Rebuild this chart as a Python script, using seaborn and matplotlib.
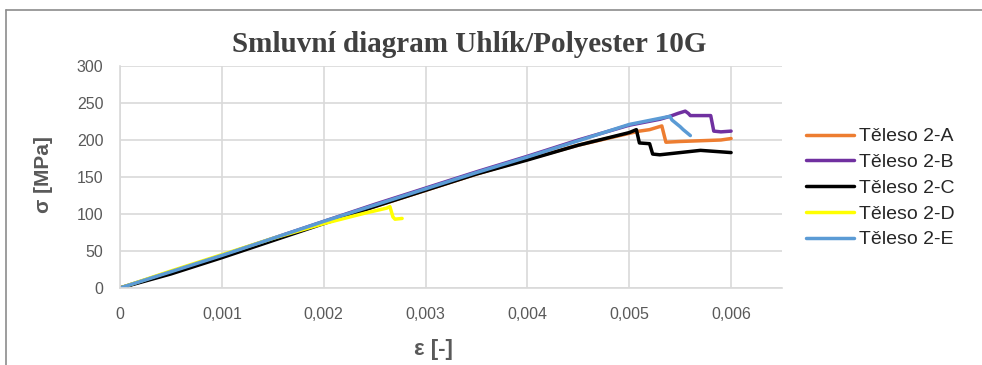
import numpy as np
import pandas as pd
import matplotlib
matplotlib.use("Agg")
import matplotlib.pyplot as plt
import seaborn as sns
from matplotlib.lines import Line2D
from matplotlib.ticker import FixedLocator, FixedFormatter

# ---------------- data ----------------
series_names = ["Těleso 2-A", "Těleso 2-B", "Těleso 2-C", "Těleso 2-D", "Těleso 2-E"]
series_colors = ["#ED7D31", "#7030A0", "#000000", "#FFFF00", "#5B9BD5"]

eps_A = [0, 0.0005, 0.001, 0.0015, 0.002, 0.0025, 0.003, 0.0035, 0.004, 0.0045, 0.005, 0.0051, 0.0052, 0.00532, 0.00536, 0.0055, 0.0057, 0.0059, 0.006]
sig_A = [0, 21, 43, 65, 88, 110, 132, 154, 174, 193, 209, 212, 214, 219, 197, 198, 199, 200, 202]

eps_B = [0, 0.0005, 0.001, 0.0015, 0.002, 0.0025, 0.003, 0.0035, 0.004, 0.0045, 0.005, 0.0053, 0.0054, 0.00548, 0.00555, 0.00558, 0.0056, 0.0058, 0.00583, 0.0059, 0.006]
sig_B = [0, 22, 44, 67, 90, 113, 135, 157, 178, 200, 220, 228, 232, 236, 239, 236, 233, 233, 212, 211, 212]

eps_C = [0, 0.0005, 0.001, 0.0015, 0.002, 0.0025, 0.003, 0.0035, 0.004, 0.0045, 0.005, 0.00507, 0.0051, 0.0052, 0.00523, 0.0053, 0.0055, 0.0057, 0.0058, 0.006]
sig_C = [0, 19, 41, 64, 87, 110, 132, 154, 173, 193, 210, 214, 196, 195, 181, 180, 183, 186, 185, 183]

eps_D = [0, 0.0005, 0.001, 0.0015, 0.002, 0.0024, 0.00262, 0.00265, 0.00268, 0.0027, 0.00277]
sig_D = [0, 23, 45, 67, 87, 101, 108, 110, 96, 93, 94]

eps_E = [0, 0.0005, 0.001, 0.0015, 0.002, 0.0025, 0.003, 0.0035, 0.004, 0.0045, 0.005, 0.0054, 0.00542, 0.0055, 0.00553, 0.0056]
sig_E = [0, 22, 44, 67, 90, 112, 134, 156, 177, 199, 221, 232, 227, 218, 214, 206]

x_ticks = [0, 0.001, 0.002, 0.003, 0.004, 0.005, 0.006]
x_tick_labels = ["0", "0,001", "0,002", "0,003", "0,004", "0,005", "0,006"]
y_ticks = [0, 50, 100, 150, 200, 250, 300]
y_tick_labels = ["0", "50", "100", "150", "200", "250", "300"]

title = "Smluvní diagram Uhlík/Polyester 10G"
x_label = "ε [-]"
y_label = "σ [MPa]"

# ---------------- build frame ----------------
frames = []
for name, e, s in zip(series_names,
                      [eps_A, eps_B, eps_C, eps_D, eps_E],
                      [sig_A, sig_B, sig_C, sig_D, sig_E]):
    frames.append(pd.DataFrame({"eps": e, "sigma": s, "series": name}))
df = pd.concat(frames, ignore_index=True)

sns.set_theme(style="white")
plt.rcParams["font.family"] = ["Liberation Sans", "DejaVu Sans"]

fig = plt.figure(figsize=(9.82, 3.65), dpi=100)
ax = fig.add_axes([120 / 982, 1 - 288 / 365, (782 - 120) / 982, (288 - 66) / 365])

sns.lineplot(data=df, x="eps", y="sigma", hue="series", hue_order=series_names,
             palette=dict(zip(series_names, series_colors)), sort=False,
             estimator=None, linewidth=2.5, ax=ax, legend=False)

ax.set_xlim(0, 0.0065)
ax.set_ylim(0, 300)
ax.xaxis.set_major_locator(FixedLocator(x_ticks))
ax.xaxis.set_major_formatter(FixedFormatter(x_tick_labels))
ax.yaxis.set_major_locator(FixedLocator(y_ticks))
ax.yaxis.set_major_formatter(FixedFormatter(y_tick_labels))
ax.grid(True, color="#D9D9D9", linewidth=1.2)
ax.set_axisbelow(True)
for side in ["top", "right"]:
    ax.spines[side].set_visible(False)
for side in ["left", "bottom"]:
    ax.spines[side].set_color("#D9D9D9")
    ax.spines[side].set_linewidth(1.2)
ax.tick_params(axis="both", length=0, labelsize=11.5, colors="#595959")
ax.tick_params(axis="x", pad=14)
ax.tick_params(axis="y", pad=12)

ax.set_xlabel(x_label, fontsize=16, fontweight="bold", color="#595959")
ax.xaxis.set_label_coords((433 - 120) / 662, -(350 - 288) / 222)
ax.xaxis.label.set_va("center")
ax.set_ylabel(y_label, fontsize=15, fontweight="bold", color="#595959")
ax.yaxis.set_label_coords(-(120 - 44) / 662, (288 - 175) / 222)
ax.yaxis.label.set_va("center")

fig.text(469 / 982, 1 - 45 / 365, title, ha="center", va="center",
         fontsize=21, fontweight="bold", color="#404040",
         family=["Liberation Serif", "DejaVu Serif"])

handles = [Line2D([0], [0], color=c, linewidth=2.5) for c in series_colors]
fig.legend(handles, series_names, loc="upper left",
           bbox_to_anchor=(798 / 982, 1 - 120 / 365), frameon=False,
           fontsize=14, handlelength=2.5, handletextpad=0.25, labelspacing=0.42,
           borderaxespad=0)

# outer chart border (left and top edges visible in crop)
fig.add_artist(Line2D([6 / 982, 6 / 982], [0, 1 - 10 / 365], transform=fig.transFigure,
                      color="#8C8C8C", linewidth=1.2))
fig.add_artist(Line2D([6 / 982, 1], [1 - 10 / 365, 1 - 10 / 365], transform=fig.transFigure,
                      color="#8C8C8C", linewidth=1.2))

fig.savefig("out.png", dpi=100, facecolor="white")
